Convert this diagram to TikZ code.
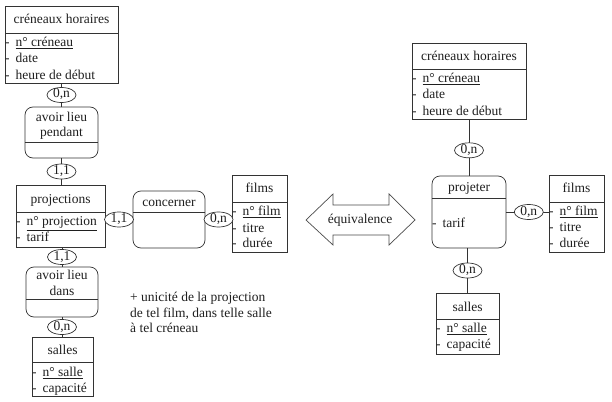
\documentclass[tikz,border=0pt]{standalone}
\usepackage{fontspec}
\setmainfont{Liberation Serif}
\newfontfamily\tnr{Liberation Serif}
\usetikzlibrary{shapes.geometric}
\begin{document}
\begin{tikzpicture}[x=1pt,y=-1pt,
  font=\tnr\fontsize{13.5}{16}\selectfont,
  every node/.style={text=black!88},
  ent/.style={draw=black!80, line width=0.7pt, rectangle, inner sep=0pt},
  rel/.style={draw=black!80, line width=0.7pt, rectangle, rounded corners=8pt, inner sep=0pt},
  sep/.style={draw=black!80, line width=0.7pt},
  link/.style={draw=black!80, line width=0.7pt},
  card/.style={ellipse, draw=black!80, line width=0.7pt, fill=white, inner sep=0pt,
    text height=8pt, text depth=2pt, minimum width=29pt, minimum height=15pt},
  hd/.style={anchor=base, inner sep=0pt},
  att/.style={anchor=base west, inner sep=0pt},
]
\useasboundingbox[fill=white] (0,0) rectangle (612,401);
\newcommand{\dsh}[1]{\makebox[10.5pt][l]{-}#1}

% ---------------- LEFT ----------------
\node[ent, minimum width=113pt, minimum height=77pt] (ch1) at (61.5,44.5) {};
\draw[sep] (5,33) -- (118,33);
\node[hd] (ch1h) at (61.5,24) {créneaux horaires};
\node[att] (ch1a) at (5,46.5) {\dsh{\underline{n° créneau}}};
\node[att] (ch1b) at (5,62.5) {\dsh{date}};
\node[att] (ch1c) at (5,79.5) {\dsh{heure de début}};

\node[rel, minimum width=73pt, minimum height=51pt] (alp) at (61.5,132.5) {};
\draw[sep] (25,142) -- (98,142);
\node[hd] (alph1) at (61.5,121.5) {avoir lieu};
\node[hd] (alph2) at (61.5,136.5) {pendant};

\node[ent, minimum width=89pt, minimum height=62pt] (proj) at (60.5,216) {};
\draw[sep] (16,212) -- (105,212);
\node[hd] (projh) at (60.5,203.5) {projections};
\node[att] (proja) at (16,225.5) {\dsh{\underline{n° projection}}};
\node[att] (projb) at (16,241.5) {\dsh{tarif}};

\node[rel, minimum width=72pt, minimum height=50pt] (ald) at (62,292) {};
\draw[sep] (26,299) -- (98,299);
\node[hd] (aldh1) at (62,279.5) {avoir lieu};
\node[hd] (aldh2) at (62,295.5) {dans};

\node[ent, minimum width=61pt, minimum height=59pt] (sal1) at (62.5,366.5) {};
\draw[sep] (32,362) -- (93,362);
\node[hd] (sal1h) at (62.5,354.5) {salles};
\node[att] (sal1a) at (32,376.5) {\dsh{\underline{n° salle}}};
\node[att] (sal1b) at (32,392.5) {\dsh{capacité}};

\node[rel, minimum width=72pt, minimum height=57pt] (conc) at (169,219.5) {};
\draw[sep] (133,212) -- (205,212);
\node[hd] (conch) at (169,206.5) {concerner};

\node[ent, minimum width=55pt, minimum height=77pt] (fil1) at (259.5,213.5) {};
\draw[sep] (232,202) -- (287,202);
\node[hd] (fil1h) at (259.5,192.5) {films};
\node[att] (fil1a) at (232,215.5) {\dsh{\underline{n° film}}};
\node[att] (fil1b) at (232,232.5) {\dsh{titre}};
\node[att] (fil1c) at (232,247.5) {\dsh{durée}};

\draw[link] (ch1.south) -- node[card] (k1) {0,n} (alp.north);
\draw[link] (alp.south) -- node[card] (k2) {1,1} (alp.south |- proj.north);
\draw[link] (proj.south -| ald.north) -- node[card] (k3) {1,1} (ald.north);
\draw[link] (ald.south) -- node[card] (k4) {0,n} (ald.south |- sal1.north);
\draw[link] (proj.east |- conc.west) -- node[card] (k5) {1,1} (conc.west);
\draw[link] (conc.east) -- node[card] (k6) {0,n} (conc.east -| fil1.west);

\node[att] (n1) at (130,301.5) {+ unicité de la projection};
\node[att] (n2) at (130,317.5) {de tel film, dans telle salle};
\node[att] (n3) at (130,332.5) {à tel créneau};

% ---------------- ARROW ----------------
\draw[black!70, line width=0.7pt] (306,220) -- (333,194) -- (333,205) -- (389,205) -- (389,194)
  -- (415,220) -- (389,245) -- (389,235) -- (333,235) -- (333,245) -- cycle;
\node[inner sep=0pt] (eq) at (360,220) {équivalence};

% ---------------- RIGHT ----------------
\node[ent, minimum width=114pt, minimum height=76pt] (ch2) at (469,81) {};
\draw[sep] (412,69) -- (526,69);
\node[hd] (ch2h) at (469,60.5) {créneaux horaires};
\node[att] (ch2a) at (412,82.5) {\dsh{\underline{n° créneau}}};
\node[att] (ch2b) at (412,98.5) {\dsh{date}};
\node[att] (ch2c) at (412,115.5) {\dsh{heure de début}};

\node[rel, minimum width=74pt, minimum height=72pt] (pj) at (469,212) {};
\draw[sep] (432,198) -- (506,198);
\node[hd] (pjh) at (469,191.5) {projeter};
\node[att] (pja) at (432,227.5) {\dsh{tarif}};

\node[ent, minimum width=55pt, minimum height=77pt] (fil2) at (576.5,213.5) {};
\draw[sep] (549,202) -- (604,202);
\node[hd] (fil2h) at (576.5,192.5) {films};
\node[att] (fil2a) at (549,215.5) {\dsh{\underline{n° film}}};
\node[att] (fil2b) at (549,231.5) {\dsh{titre}};
\node[att] (fil2c) at (549,247.5) {\dsh{durée}};

\node[ent, minimum width=63pt, minimum height=61pt] (sal2) at (467.5,323.5) {};
\draw[sep] (436,319) -- (499,319);
\node[hd] (sal2h) at (467.5,311.5) {salles};
\node[att] (sal2a) at (436,332.5) {\dsh{\underline{n° salle}}};
\node[att] (sal2b) at (436,348.5) {\dsh{capacité}};

\draw[link] (ch2.south) -- node[card, pos=0.55] (k7) {0,n} (pj.north);
\draw[link] (pj.east) -- node[card, pos=0.53] (k8) {0,n} (pj.east -| fil2.west);
\draw[link] (pj.south -| sal2.north) -- node[card] (k9) {0,n} (sal2.north);
\end{tikzpicture}
\end{document}
